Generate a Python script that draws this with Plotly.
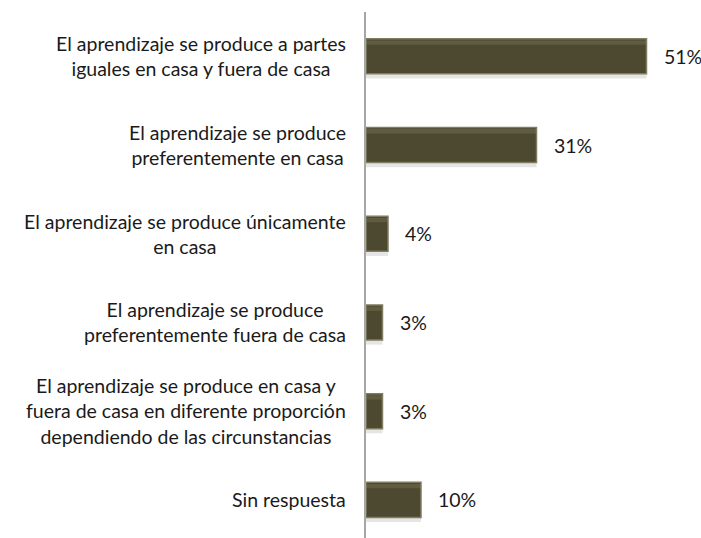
import plotly.graph_objects as go

# Categories (top to bottom) and their shares in percent
categorias = [
    "El aprendizaje se produce a partes<br>iguales en casa y fuera de casa",
    "El aprendizaje se produce<br>preferentemente en casa",
    "El aprendizaje se produce únicamente<br>en casa",
    "El aprendizaje se produce<br>preferentemente fuera de casa",
    "El aprendizaje se produce en casa y<br>fuera de casa en diferente proporción<br>dependiendo de las circunstancias",
    "Sin respuesta",
]
porcentajes = [51, 31, 4, 3, 3, 10]
etiquetas = [f"{v}%" for v in porcentajes]

FONT = "Lato"
FSIZE = 19.5
W, H = 701, 538
LEFT = 366
PX_PER_UNIT = 5.5

fig = go.Figure()

# soft drop shadow under each bar
fig.add_trace(go.Bar(
    y=categorias, x=porcentajes, orientation="h",
    width=0.41, offset=-0.16,
    marker=dict(color="rgba(0,0,0,0.10)", line=dict(width=0)),
    hoverinfo="skip", showlegend=False,
))
# main bar body with a lighter bevel edge
fig.add_trace(go.Bar(
    y=categorias, x=porcentajes, orientation="h",
    width=0.395, offset=-0.1975,
    marker=dict(color="#4c4930", line=dict(color="#7f7c60", width=1.5)),
    showlegend=False,
))
# faint highlight band for the top bevel
fig.add_trace(go.Bar(
    y=categorias, x=porcentajes, orientation="h",
    width=0.05, offset=-0.18,
    marker=dict(color="rgba(140,137,105,0.30)", line=dict(width=0)),
    hoverinfo="skip", showlegend=False,
))

annotations = []
for cat, val, lab in zip(categorias, porcentajes, etiquetas):
    annotations.append(dict(
        x=val, y=cat, xref="x", yref="y", text=lab,
        xanchor="left", yanchor="middle", xshift=15, showarrow=False,
        font=dict(family=FONT, size=FSIZE, color="#1a1a1a"),
    ))
    annotations.append(dict(
        x=0, y=cat, xref="paper", yref="y", text=cat,
        xanchor="right", yanchor="middle", align="center", xshift=-18,
        showarrow=False,
        font=dict(family=FONT, size=FSIZE, color="#1a1a1a"),
    ))

fig.update_layout(
    width=W, height=H,
    margin=dict(l=LEFT, r=0, t=12, b=0),
    paper_bgcolor="white", plot_bgcolor="white",
    barmode="overlay",
    annotations=annotations,
    xaxis=dict(range=[0, (W - LEFT) / PX_PER_UNIT], visible=False, fixedrange=True),
    yaxis=dict(
        type="category", categoryorder="array", categoryarray=categorias,
        range=[5.43, -0.5], showticklabels=False, ticks="",
        showline=True, linecolor="#a6a6a6", linewidth=2, showgrid=False,
        zeroline=False,
    ),
)

fig.write_html("out.html")
